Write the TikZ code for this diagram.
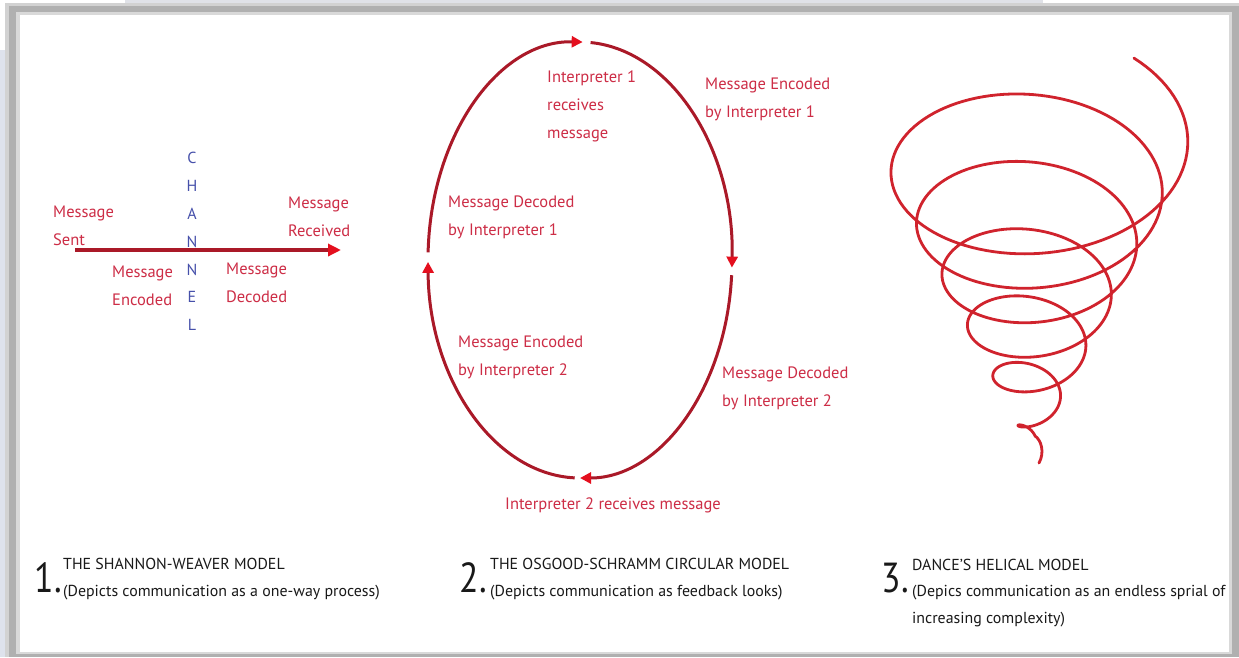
\documentclass[tikz,border=0pt]{standalone}
\usepackage{fontspec}
\setmainfont{PT Sans}
\newfontfamily\lblfont{PT Sans}
\newfontfamily\numfont[FakeStretch=0.85]{PT Sans}
\usetikzlibrary{arrows.meta,calc}
\definecolor{lblred}{RGB}{205,45,70}
\definecolor{circred}{RGB}{170,25,40}
\definecolor{arrred}{RGB}{228,15,30}
\definecolor{helixred}{RGB}{208,35,45}
\definecolor{chblue}{RGB}{70,80,170}
\definecolor{capblack}{RGB}{25,25,25}
\definecolor{bluegray}{RGB}{222,226,236}
\definecolor{stripgray}{RGB}{224,226,232}
\tikzset{
  lbl/.style={text=lblred, font=\lblfont\fontsize{16.5}{28}\selectfont, align=left, anchor=west, inner sep=0pt},
  chan/.style={text=chblue, font=\lblfont\fontsize{16}{27.8}\selectfont, align=center, inner sep=0pt},
  circarc/.style={draw=circred, line width=3pt, -{Triangle[length=11pt,width=11pt,color=arrred]}},
  shline/.style={draw=circred, line width=3.5pt, -{Triangle[length=13pt,width=12pt,color=arrred]}},
  helixline/.style={draw=helixred, line width=2.8pt, line cap=round, line join=round},
  capnum/.style={text=capblack, font=\numfont\fontsize{42}{42}\selectfont, anchor=east, inner sep=0pt},
  captitle/.style={text=capblack, font=\fontsize{15.9}{26.5}\selectfont, align=left, anchor=west, inner sep=0pt}
}
\begin{document}
\begin{tikzpicture}[x=1pt,y=-1pt]
\useasboundingbox (0,0) rectangle (1239,657);
% background and frame
\fill[white] (0,0) rectangle (1239,657);
\fill[bluegray] (0,50) rectangle (6,657);
\fill[stripgray] (125,0) rectangle (1043,5);
\fill[gray!35] (5,3) rectangle (1239,657);
\fill[gray!62] (9,6) rectangle (1239,657);
\fill[gray!30] (16,12) rectangle (1232,654);
\fill[white] (20,15) rectangle (1229,652);

% ---------- 1. Shannon-Weaver ----------
\coordinate (sa) at (75,250);
\coordinate (sb) at (341,250);
\draw[shline] (sa) -- (sb);
\node[chan] (chan) at (192,241.5) {C\\H\\A\\N\\N\\E\\L};
\node[lbl] (sent) at (53,226) {Message\\Sent};
\node[lbl] (recv) at (288,217) {Message\\Received};
\node[lbl] (enc) at (112,286) {Message\\Encoded};
\node[lbl] (dec) at (226,283) {Message\\Decoded};

% ---------- 2. Osgood-Schramm ----------
\coordinate (C) at (580,260);
\draw[circarc] (C) ++(-86:152 and 218) coordinate (p1) arc[start angle=-86, end angle=2, x radius=152, y radius=218] coordinate (q1);
\draw[circarc] (C) ++(4:152 and 218) coordinate (p2) arc[start angle=4, end angle=90, x radius=152, y radius=218] coordinate (q2);
\draw[circarc] (C) ++(92:152 and 218) coordinate (p3) arc[start angle=92, end angle=179.5, x radius=152, y radius=218] coordinate (q3);
\draw[circarc] (C) ++(182:152 and 218) coordinate (p4) arc[start angle=182, end angle=271, x radius=152, y radius=218] coordinate (q4);
\node[lbl] (i1r) at (547,106) {Interpreter 1\\receives\\message};
\node[lbl] (me1) at (705,99) {Message Encoded\\by Interpreter 1};
\node[lbl] (md1) at (448,217) {Message Decoded\\by Interpreter 1};
\node[lbl] (me2) at (458,357) {Message Encoded\\by Interpreter 2};
\node[lbl] (md2) at (722,388) {Message Decoded\\by Interpreter 2};
\node[lbl] (i2r) at (505,505) {Interpreter 2 receives message};

% ---------- 3. Dance helix ----------
\draw[helixline] plot[domain=-0.14:5.8, samples=700]
  ({1033 + (154.75-25.5*\x)*cos(360*\x)}, {144.5 + 51*\x + 0.65*(154.75-25.5*\x)*sin(360*\x)})
  .. controls (1041,440) and (1045,452) .. (1039,463);

% ---------- captions ----------
\node[capnum] (n1) at (62,578) {1.};
\node[captitle] (t1) at (63,579) {THE SHANNON-WEAVER MODEL\\(Depicts communication as a one-way process)};
\node[capnum] (n2) at (487,578) {2.};
\node[captitle] (t2) at (490,579) {THE OSGOOD-SCHRAMM CIRCULAR MODEL\\(Depicts communication as feedback looks)};
\node[capnum] (n3) at (909,578) {3.};
\node[captitle] (t3) at (912,593) {DANCE'S HELICAL MODEL\\(Depics communication as an endless sprial of\\increasing complexity)};
\end{tikzpicture}
\end{document}
